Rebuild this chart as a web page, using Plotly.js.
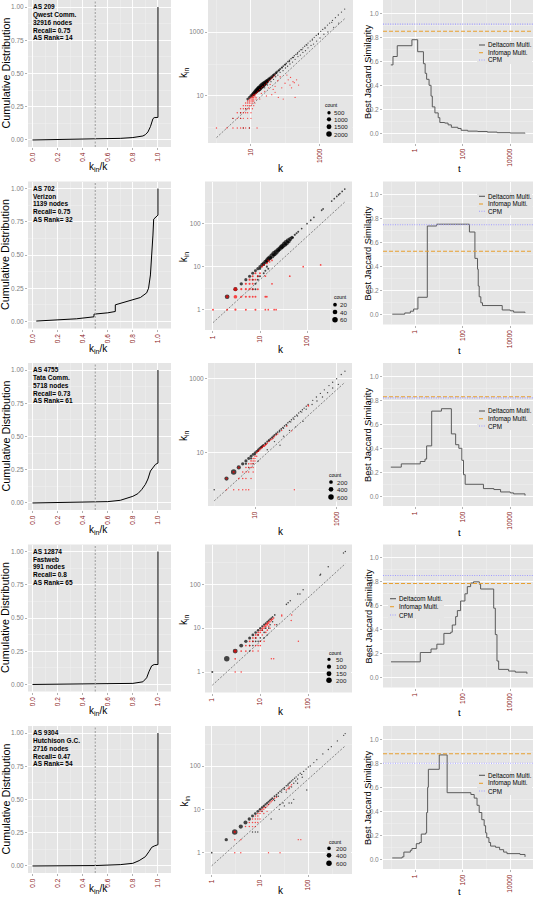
<!DOCTYPE html>
<html><head><meta charset="utf-8">
<script src="https://cdn.plot.ly/plotly-3.0.1.min.js"></script>
<style>html,body{margin:0;padding:0;background:#fff}#chart{width:534px;height:897px}</style>
</head><body><div id="chart"></div>
<script>
// ---------------- DATA ----------------
const rowText = [
  ['AS 209','Qwest Comm.','32916 nodes','Recall= 0.75','AS Rank= 14'],
  ['AS 702','Verizon','1139 nodes','Recall= 0.75','AS Rank= 32'],
  ['AS 4755','Tata Comm.','5718 nodes','Recall= 0.73','AS Rank= 61'],
  ['AS 12874','Fastweb','991 nodes','Recall= 0.8','AS Rank= 65'],
  ['AS 9304','Hutchison G.C.','2716 nodes','Recall= 0.47','AS Rank= 54']
];
const kinThreshold = 0.5;

// Column 1: cumulative distribution of k_in/k
const cdfX1 = [0,0.3,0.5,0.7,0.8,0.85,0.88,0.9,0.92,0.94,0.95,0.96,0.97,0.99,1.0,1.0];
const cdfY1 = [0,0.003,0.006,0.012,0.018,0.022,0.03,0.04,0.06,0.1,0.14,0.16,0.168,0.17,0.17,1.0];
const cdfX2 = [0.03,0.2,0.35,0.49,0.49,0.6,0.66,0.66,0.72,0.8,0.86,0.91,0.925,0.94,0.95,0.96,0.966,0.985,1.0,1.0];
const cdfY2 = [0.003,0.01,0.02,0.035,0.055,0.065,0.075,0.125,0.14,0.16,0.18,0.215,0.25,0.35,0.48,0.65,0.77,0.79,0.80,1.0];
const cdfX3 = [0,0.4,0.6,0.7,0.75,0.8,0.84,0.87,0.9,0.92,0.94,0.96,0.98,1.0,1.0];
const cdfY3 = [0,0.003,0.01,0.02,0.035,0.05,0.07,0.1,0.14,0.18,0.24,0.27,0.29,0.3,1.0];
const cdfX4 = [0,0.5,0.8,0.88,0.91,0.93,0.95,0.97,1.0,1.0];
const cdfY4 = [0,0.002,0.008,0.02,0.05,0.1,0.14,0.15,0.15,1.0];
const cdfX5 = [0,0.5,0.7,0.8,0.85,0.9,0.93,0.95,0.97,1.0,1.0];
const cdfY5 = [0,0.003,0.01,0.02,0.04,0.07,0.11,0.14,0.15,0.16,1.0];

// Column 2: [k, k_in, count]
const blackPts1 = [[8,8,200],[9,9,300],[10,10,450],[11,11,600],[12,12,800],[13,13,1000],[14,14,1200],[15,15,1400],[16,16,1600],[17,17,1800],[18,18,1900],[20,20,2000],[22,22,1900],[24,24,1600],[26,26,1300],[28,28,1000],[30,30,800],[33,33,600],[36,36,450],[40,40,350],[44,44,250],[48,48,200],[53,53,160],[58,58,120],[64,64,90],[70,70,70],[78,78,55],[86,86,45],[95,95,35],[105,105,28],[118,118,22],[130,130,18],[145,145,14],[160,160,11],[180,180,9],[200,200,7],[225,225,6],[250,250,5],[280,280,4],[320,320,3],[360,360,3],[400,400,2],[450,450,2],[520,520,2],[600,600,1],[680,680,1],[780,780,1],[900,900,1],[1050,1050,1],[1200,1200,1],[1400,1400,1],[1650,1650,1],[1900,1900,1],[2300,2300,1],[2800,2800,1],[3400,3400,1],[4200,4200,1],[5200,5200,1],
 [12,11,150],[14,13,200],[16,15,250],[18,17,300],[20,19,300],[23,22,250],[26,25,200],[30,29,150],[35,34,100],[40,38,60],[46,44,40],[55,52,25],[65,62,15],[80,76,10],[100,95,6],[130,120,4],[170,160,3],[220,205,2],[300,280,2],[420,390,1],[600,560,1],[900,840,1],[1400,1300,1],[2200,2000,1],
 [25,18,3],[30,22,2],[38,28,2],[45,33,2],[52,40,1],[60,45,1],[70,55,1],[85,62,1],[100,75,1],[115,85,1],[135,100,1],[160,115,1],[190,140,1],[230,170,1],[270,190,1],[320,230,1],[380,260,1],[450,320,1],[550,380,1],[650,420,1],[800,520,1],[1000,650,1],[1300,850,1],[1700,1000,1],[2500,1400,1],[3500,1900,1],
 [3,2,3],[5,2,2],[6,1,2],[9,1,2],[5,3,3],[7,4,2]];
const redPts1 = [[1,1,5],[2,1,8],[3,1,6],[4,1,5],[5,1,4],[6,1,3],[7,1,2],[9,1,2],[15,1,1],
 [3,2,6],[4,2,5],[5,2,4],[6,2,3],[8,2,2],[10,2,1],
 [4,3,8],[5,3,6],[6,3,4],[7,3,3],[8,3,2],[10,3,1],
 [5,4,8],[6,4,6],[7,4,5],[8,4,4],[9,4,3],[11,4,2],
 [6,5,8],[7,5,8],[8,5,6],[9,5,5],[10,5,3],[12,5,2],
 [7,6,10],[8,6,8],[9,6,6],[10,6,5],[11,6,3],[13,6,2],
 [8,7,10],[9,7,8],[10,7,6],[11,7,5],[12,7,3],
 [9,8,10],[10,8,8],[11,8,6],[12,8,4],[14,8,2],
 [10,9,10],[11,9,8],[12,9,6],[14,9,3],
 [11,10,8],[12,10,6],[13,10,4],[12,11,6],[13,11,5],[14,12,5],[15,13,4],[16,14,4],[18,16,3],[20,18,3],[22,20,3],[25,22,2],[28,25,2],[32,29,2],[36,32,1],[40,36,1],[45,40,1],[50,45,1],
 [97,25,1],[120,32,1],[135,22,1],[165,28,1],[210,32,1],[240,22,1],[150,18,1],[78,18,1],[50,13,1],[62,9,1],[40,11,1],[190,9,1],[86,8,1],[32,18,1],[50,20,1],[36,23,1],[60,30,1],[70,40,1],[110,45,1],[25,14,1],[20,12,1],[18,8,1],[28,10,1],[44,16,1],[140,38,1],[180,26,1]];

const blackPts2 = [[2,2,40],[3,3,30],[4,4,15],[5,5,12],[6,6,12],[7,7,10],[8,8,10],[9,9,12],[10,10,15],[11,11,18],[12,12,20],[13,13,25],[14,14,28],[15,15,35],[16,16,40],[18,18,50],[20,20,60],[22,22,50],[24,24,40],[26,26,35],[28,28,40],[30,30,45],[33,33,55],[36,36,60],[40,40,50],[44,44,30],[48,48,15],[55,55,3],[60,60,2],[65,65,2],[77,77,1],[100,100,1],[120,120,1],[140,140,1],[205,205,1],[220,220,1],[335,335,1],[380,380,1],[430,430,1],[470,470,1],[500,500,1],[560,560,1],[635,635,1],
 [10,9,5],[12,11,5],[14,13,6],[17,16,8],[20,19,10],[25,24,8],[30,28,5],[35,33,4],[40,38,3],[50,47,2],
 [7,3,2],[8,3,2],[8,4,2],[9,5,2],[9,6,2],[7,5,2],[12,7,2],[10,6,2],[14,10,3],[15,9,2],[13,8,2]];
const redPts2 = [[1,1,2],[2,1,2],[3,1,3],[5,1,2],[8,1,2],[13,1,1],[15,1,1],[20,1,1],[22,1,1],
 [3,2,20],[4,2,3],[5,2,3],[6,2,3],[7,2,2],[8,2,2],[13,2,2],[14,2,1],
 [4,3,3],[5,3,3],[6,3,3],[7,3,2],[9,3,2],
 [5,4,3],[6,4,3],[7,4,2],[18,4,1],
 [6,5,3],[7,5,2],[8,5,2],
 [7,6,2],[9,6,2],[13,6,1],[43,6,1],
 [8,7,2],[10,7,2],
 [83,10,1],[195,11,1],
 [2,2,8],[3,3,20],
 [11,10,2],[12,11,2],[14,12,2],[15,14,1],[16,13,1],[18,14,1]];

const blackPts3 = [[1,1,5],[2,2,300],[3,3,600],[4,4,300],[5,5,150],[6,6,120],[7,7,100],[8,8,90],[9,9,80],[10,10,70],[11,11,60],[12,12,55],[13,13,50],[14,14,45],[15,15,40],[16,16,38],[18,18,32],[20,20,28],[22,22,24],[24,24,20],[26,26,18],[28,28,16],[30,30,14],[33,33,12],[36,36,10],[40,40,9],[44,44,8],[48,48,7],[53,53,6],[58,58,5],[64,64,4],[70,70,4],[78,78,3],[86,86,3],[95,95,2],[105,105,2],[118,118,2],[130,130,2],[145,145,1],[160,160,1],[180,180,1],[200,200,1],[260,260,1],[320,320,1],[400,400,1],[500,500,1],[650,650,1],[800,800,1],[1000,1000,1],[1300,1300,1],[1600,1600,1],
 [6,5,30],[8,7,25],[10,9,20],[12,11,15],[15,14,12],[18,17,10],[22,21,8],[27,25,6],[33,31,5],[40,37,4],[50,46,3],[60,55,2],[75,68,2],[90,80,1],[110,98,1],[140,125,1],[180,150,1],[250,200,1],[330,250,1],[450,320,1],[600,420,1],[800,560,1],[1100,700,1],
 [41,16,2],[30,20,1],[50,28,1],[70,40,1],[100,50,1],[150,70,1],[9,5,3],[7,4,3],[12,6,2],[20,12,2]];
const redPts3 = [[2,1,3],[3,1,3],[4,1,3],[5,1,2],[6,1,2],[7,1,2],[92,1,1],
 [2,2,20],[3,3,30],[4,4,20],
 [4,2,5],[5,2,4],[6,2,3],[8,2,2],
 [5,3,5],[6,3,4],[7,3,3],[9,3,2],
 [6,4,5],[7,4,4],[8,4,3],[9,4,2],
 [7,5,5],[8,5,4],[9,5,3],
 [8,6,5],[9,6,4],[10,6,3],
 [9,7,4],[10,7,3],[10,8,4],[11,8,3],
 [11,10,10],[12,11,10],[13,12,10],[14,13,8],[15,14,8],[16,15,8],[17,15,6],[18,16,6],[19,17,5],[20,18,5],[22,20,4],[24,22,4],[26,23,3],[28,25,3],[30,27,2],[33,30,2],[36,32,2],[45,40,2],[60,52,1],[79,39,1],[200,190,1],[205,182,2]];

const blackPts4 = [[1,1,8],[2,2,200],[3,3,150],[4,4,80],[5,5,50],[6,6,35],[7,7,25],[8,8,20],[9,9,18],[10,10,15],[11,11,12],[12,12,10],[13,13,8],[14,14,8],[15,15,6],[16,16,5],[17,17,4],[18,18,3],[20,20,3],[35,35,2],[38,38,2],[42,42,1],[60,60,1],[67,60,1],[78,75,1],[175,160,1],[180,170,1],[260,250,1],[540,520,1],[590,560,1],
 [14,7,2],[22,12,1],[8,5,3],[9,5,2],[10,6,2],[7,4,2],[6,3,2],[12,6,2],[11,9,3],[13,10,3],[16,12,2],[12,8,2],[10,5,1],[15,10,2],[18,14,2],[9,7,3],[8,6,3],[7,5,3],[6,4,2]];
const redPts4 = [[3,1,2],[4,1,2],[3,2,3],[4,3,3],[5,4,4],[17,2,1],[19,2,1],[62,5,1],[28,20,1],[28,19,1],[45,20,1],[44,15,1],[3,3,40],
 [5,3,3],[6,4,3],[6,5,3],[7,5,3],[7,6,3],[8,6,3],[8,7,3],[9,7,3],[9,8,3],[10,8,3],[10,9,3],[11,9,3],[11,10,3],[12,10,3],[12,11,3],[13,11,3],[13,12,3],[14,12,3],[14,13,3],[15,13,2],[15,14,2],[16,14,2],[17,15,2],[17,16,2],[18,16,2],[19,17,2],[8,4,2],[9,4,2],[10,4,2],[7,3,2],[10,5,2],[12,5,1],[9,3,1],[11,7,2],[13,8,2],[14,9,2],[15,11,2],[16,10,1],[20,12,1]];

const blackPts5 = [[1,1,8],[2,2,150],[3,3,600],[4,4,300],[5,5,250],[6,6,150],[7,7,100],[8,8,80],[9,9,70],[10,10,60],[11,11,50],[12,12,45],[13,13,40],[14,14,35],[15,15,30],[16,16,25],[17,17,20],[18,18,18],[20,20,15],[22,22,10],[24,24,8],[26,26,6],[28,28,5],[30,30,5],[32,32,4],[35,35,5],[38,38,6],[40,40,5],[42,42,4],[45,45,3],[48,48,2],[52,52,2],[56,56,1],[62,62,1],[68,68,1],[73,64,1],[80,75,1],[90,85,1],[100,95,1],[110,100,1],[130,120,1],[150,140,1],[200,190,1],[260,240,1],[300,280,1],[400,380,1],[540,510,1],[580,560,1],
 [17,6,2],[26,13,2],[25,10,2],[9,3,2],[93,28,1],[30,14,1],[35,25,2],[40,30,2],[45,33,2],[50,40,1],[55,45,1],[60,50,1],[8,3,1],[7,3,1],[11,9,4],[13,11,4],[15,13,3],[19,17,3],[22,20,3],[28,25,2],[32,29,2],[38,35,2],[20,16,2],[24,20,1],[60,40,1],[75,55,1],[45,14,1],[40,14,1],[32,12,1],[50,17,1]];
const redPts5 = [[3,1,2],[4,1,2],[15,1,1],[26,1,1],[3,2,3],[4,2,2],[62,2,1],[70,2,1],[3,3,40],
 [5,4,3],[6,4,3],[6,5,3],[7,5,3],[7,6,3],[8,6,3],[8,7,3],[9,7,3],[9,8,3],[10,8,3],[10,9,3],[11,9,3],[11,10,3],[12,10,3],[12,11,3],[13,11,2],[14,12,2],[15,13,2],[16,14,2],[17,15,2],[18,16,2],[20,18,2],[22,19,2],[7,4,2],[8,4,2],[8,5,2],[9,5,2],[9,6,2],[10,6,1],[40,32,1],[42,34,1],[45,37,1],[38,30,1],[35,28,1],[12,8,1],[14,9,1]];

const countBreaks1 = [500,1000,1500,2000];
const countBreaks2 = [20,40,60];
const countBreaks3 = [200,400,600];
const countBreaks4 = [50,100,150,200];
const countBreaks5 = [200,400,600];

// Column 3: best Jaccard similarity vs t
const tVals1 = [0.093,0.115,0.174,0.72,1.26,2.2,2.6,3.0,3.8,4.6,5.2,6.7,9.2,10.8,17.4,24,33,62,85,160,420,1080,2800,10000,42000];
const simVals1 = [0.57,0.64,0.73,0.78,0.68,0.58,0.50,0.45,0.40,0.31,0.22,0.17,0.13,0.09,0.085,0.07,0.05,0.04,0.025,0.018,0.015,0.01,0.005,0.002,0.0];
const tVals2 = [0.107,0.36,0.62,0.85,1.29,3.2,7.9,190,324,417,447,490,575,676,4570,10000,13800,41700];
const simVals2 = [0.005,0.015,0.03,0.048,0.146,0.74,0.755,0.69,0.47,0.38,0.24,0.15,0.10,0.077,0.04,0.033,0.022,0.017];
const tVals3 = [0.093,0.257,1.62,2.57,3.0,4.9,12.6,33,50,68,91,107,126,740,2040,3900,10000,13800,41700];
const simVals3 = [0.243,0.27,0.29,0.31,0.42,0.71,0.73,0.52,0.43,0.40,0.30,0.18,0.10,0.064,0.056,0.036,0.028,0.02,0.006];
const tVals4 = [0.095,1.62,4.6,8.1,16,31,36,50,59,81,123,155,214,282,500,562,2000,2340,2750,3240,8500,16200,50000];
const simVals4 = [0.133,0.21,0.24,0.28,0.37,0.38,0.44,0.51,0.56,0.64,0.70,0.76,0.79,0.80,0.78,0.74,0.58,0.36,0.14,0.07,0.056,0.047,0.033];
const tVals5 = [0.107,0.28,0.33,0.62,0.72,1.1,1.5,1.78,2.75,3.0,3.3,3.55,10.2,21.9,219,302,398,490,631,794,912,1020,1260,1480,2400,3550,5250,7240,25700,41700];
const simVals5 = [0.011,0.02,0.06,0.075,0.09,0.13,0.14,0.21,0.22,0.39,0.60,0.75,0.87,0.555,0.54,0.51,0.45,0.39,0.33,0.28,0.22,0.18,0.14,0.11,0.10,0.08,0.06,0.047,0.04,0.02];
const infomapSim = [0.85,0.53,0.83,0.786,0.88];
const cpmSim = [0.91,0.75,0.82,0.853,0.80];
const methodNames = ['Deltacom Multi.','Infomap Multi.','CPM'];

// ---------------- LAYOUT / STYLE ----------------
const F = 'Liberation Sans, Arial, sans-serif';
const W = 534, H = 897, ROW = 181.5;
const cdfX = [cdfX1,cdfX2,cdfX3,cdfX4,cdfX5], cdfY = [cdfY1,cdfY2,cdfY3,cdfY4,cdfY5];
const blackPts = [blackPts1,blackPts2,blackPts3,blackPts4,blackPts5];
const redPts = [redPts1,redPts2,redPts3,redPts4,redPts5];
const countBreaks = [countBreaks1,countBreaks2,countBreaks3,countBreaks4,countBreaks5];
const tVals = [tVals1,tVals2,tVals3,tVals4,tVals5], simVals = [simVals1,simVals2,simVals3,simVals4,simVals5];
const titleY = [167,167,167,166,163];

const c2cfg = [
  {x0:208,x1:353,b:143,xr:[-0.246,3.957],yr:[-0.469,4.0],dec:2},
  {x0:205,x1:352,b:148.5,xr:[-0.17,2.957],yr:[-0.472,2.98],dec:1},
  {x0:208,x1:352,b:143,xr:[-0.152,3.377],yr:[-0.44,3.424],dec:2},
  {x0:205,x1:352,b:148,xr:[-0.152,2.91],yr:[-0.467,2.908],dec:1},
  {x0:205,x1:352,b:148,xr:[-0.139,2.905],yr:[-0.491,2.923],dec:1}
];
const countLeg = [
  {mx:329,tx:333.3,ys:[112.7,119.3,126.7,134],tl:324.3,ty:105},
  {mx:335,tx:339,ys:[123.2,130.5,138.2],tl:333.3,ty:115.5},
  {mx:331,tx:336,ys:[119,126.3,134],tl:327.7,ty:112.3},
  {mx:329,tx:335,ys:[114.8,122.2,129.2,135.8],tl:327.7,ty:108.8},
  {mx:329,tx:335,ys:[122.3,129.3,137.3],tl:327.7,ty:116}
];
const jacLeg = [
  {sx:479,tx:487,ys:[45,52.7,60]},
  {sx:479,tx:487,ys:[14.8,22.5,29.8]},
  {sx:479,tx:487,ys:[48,55.7,63]},
  {sx:390,tx:398,ys:[54.2,62.2,70.5]},
  {sx:479,tx:487,ys:[49.3,57.3,65]}
];
const colDelta = '#5A5A5A', colInfo = '#E8A030', colCPM = '#A09CFF';

const traces = [], shapes = [], annotations = [];
const layout = {width:W, height:H, margin:{l:0,r:0,t:0,b:0,pad:0}, paper_bgcolor:'#FFFFFF', plot_bgcolor:'#E5E5E5',
  showlegend:false, font:{family:F,size:7,color:'#000'}, shapes:shapes, annotations:annotations};

function yDom(t,b){return [Math.max(0,1-b/H), Math.min(1,1-t/H)];}
function xDom(a,b){return [a/W, b/W];}
function minorGrid(vals){return {tickmode:'array', tickvals:vals, showgrid:true, gridcolor:'#F2F2F2', gridwidth:0.5, ticks:''};}
function baseAx(extra){return Object.assign({zeroline:false, showline:false, showgrid:true, gridcolor:'#FFFFFF', gridwidth:0.9,
  ticks:'outside', ticklen:2, tickwidth:0.6, tickcolor:'#7F7F7F', fixedrange:true, tickmode:'array'}, extra);}
const tickGray = {family:F, size:6.5, color:'#7F7F7F'};
const tickRed = {family:F, size:6.5, color:'#8B1A1A'};
function txt(x, y, text, o){annotations.push(Object.assign({xref:'paper', yref:'paper', x:x/W, y:1-y/H, text:text, showarrow:false,
  xanchor:'left', yanchor:'middle', borderpad:0, font:{family:F,size:6.5,color:'#000'}}, o||{}));}
function dia(c, cmax){return 1.2 + 4.3*Math.sqrt(c/cmax);}
function sfx(n){return n===1?'':String(n);}

for (let r = 0; r < 5; r++) {
  const off = r*ROW;
  // ---------- column 1 ----------
  const s1 = sfx(3*r+1);
  layout['xaxis'+s1] = baseAx({domain:xDom(28,171), range:[-0.036,1.104], anchor:'y'+s1,
    tickvals:[0,0.2,0.4,0.6,0.8,1], ticktext:['0.0','0.2','0.4','0.6','0.8','1.0'], tickangle:-90, tickfont:tickRed,
    minor:minorGrid([0.1,0.3,0.5,0.7,0.9])});
  layout['yaxis'+s1] = baseAx({domain:yDom(off, off+147), range:[-0.053,1.053], anchor:'x'+s1,
    tickvals:[0,0.25,0.5,0.75,1], ticktext:['0.00','0.25','0.50','0.75','1.00'], tickfont:tickGray,
    minor:minorGrid([0.125,0.375,0.625,0.875])});
  shapes.push({type:'line', xref:'x'+s1, yref:'y'+s1+' domain', x0:kinThreshold, x1:kinThreshold, y0:0, y1:1,
    line:{color:'#9A9A9A', width:1, dash:'2px,1.5px'}, layer:'above'});
  traces.push({type:'scatter', mode:'lines', x:cdfX[r], y:cdfY[r], xaxis:'x'+s1, yaxis:'y'+s1,
    line:{color:'#000', width:1}, hoverinfo:'skip'});
  txt(5, off+73.5, 'Cumulative Distribution', {xanchor:'center', textangle:-90, font:{family:F,size:10.8,color:'#000'}});
  txt(98, off+titleY[r], 'k<sub>in</sub>/k', {xanchor:'center', font:{family:F,size:10,color:'#000'}});
  rowText[r].forEach((line,i) => txt(32, off+6.8+7.75*i, '<b>'+line+'</b>', {font:{family:F,size:6.5,color:'#000'}}));

  // ---------- column 2 ----------
  const s2 = sfx(3*r+2), cf = c2cfg[r];
  const maj = cf.dec===2 ? [10,1000] : [1,10,100];
  const majT = maj.map(String);
  const mnr = cf.dec===2 ? [1,100,10000] : [0.3162,3.162,31.62,316.2];
  layout['xaxis'+s2] = baseAx({type:'log', domain:xDom(cf.x0,cf.x1), range:cf.xr, anchor:'y'+s2,
    tickvals:maj, ticktext:majT, tickangle:-90, tickfont:tickRed, minor:minorGrid(mnr)});
  layout['yaxis'+s2] = baseAx({type:'log', domain:yDom(off, off+cf.b), range:cf.yr, anchor:'x'+s2,
    tickvals:maj, ticktext:majT, tickfont:tickGray, minor:minorGrid(mnr)});
  const allPts = blackPts[r].concat(redPts[r]);
  const cmax = Math.max.apply(null, allPts.map(p=>p[2]));
  const kmin = Math.min.apply(null, allPts.map(p=>p[0])), kmax = Math.max.apply(null, allPts.map(p=>p[0]));
  traces.push({type:'scatter', mode:'lines', x:[kmin,kmax], y:[kmin*kinThreshold,kmax*kinThreshold], xaxis:'x'+s2, yaxis:'y'+s2,
    line:{color:'#6A6A6A', width:0.8, dash:'2px,1.6px'}, hoverinfo:'skip'});
  traces.push({type:'scatter', mode:'markers', x:blackPts[r].map(p=>p[0]), y:blackPts[r].map(p=>p[1]), xaxis:'x'+s2, yaxis:'y'+s2,
    marker:{color:'#000', size:blackPts[r].map(p=>dia(p[2],cmax)), line:{width:0}}, hoverinfo:'skip'});
  traces.push({type:'scatter', mode:'markers', x:redPts[r].map(p=>p[0]), y:redPts[r].map(p=>p[1]), xaxis:'x'+s2, yaxis:'y'+s2,
    marker:{color:'#FF0000', size:redPts[r].map(p=>dia(p[2],cmax)), line:{width:0}}, hoverinfo:'skip'});
  txt(184, off+cf.b/2+1.5, 'k<sub>in</sub>', {xanchor:'center', textangle:-90, font:{family:F,size:10,color:'#000'}});
  txt(281, off+titleY[r]+1, 'k', {xanchor:'center', font:{family:F,size:10,color:'#000'}});
  // count legend
  const cl = countLeg[r];
  shapes.push({type:'rect', xref:'paper', yref:'paper', x0:(cl.tl-2)/W, x1:(cf.x1-1)/W,
    y0:1-(off+cl.ys[cl.ys.length-1]+4.5)/H, y1:1-(off+cl.ty-3.5)/H, fillcolor:'#E5E5E5', line:{width:0}, layer:'above'});
  txt(cl.tl, off+cl.ty, 'count', {font:{family:F,size:5,color:'#000'}});
  countBreaks[r].forEach((c,i) => {
    const d = dia(c,cmax);
    shapes.push({type:'circle', xref:'paper', yref:'paper', xsizemode:'pixel', ysizemode:'pixel',
      xanchor:cl.mx/W, yanchor:1-(off+cl.ys[i])/H, x0:-d/2, x1:d/2, y0:-d/2, y1:d/2,
      fillcolor:'#000', line:{width:0}, layer:'above'});
    txt(cl.tx, off+cl.ys[i], String(c), {font:{family:F,size:6.2,color:'#1A1A1A'}});
  });

  // ---------- column 3 ----------
  const s3 = sfx(3*r+3);
  layout['xaxis'+s3] = baseAx({type:'log', domain:xDom(383,533), range:[-1.36,4.956], anchor:'y'+s3,
    tickvals:[1,100,10000], ticktext:['1','100','10000'], tickangle:-90, tickfont:tickRed, minor:minorGrid([0.1,10,1000,100000])});
  layout['yaxis'+s3] = baseAx({domain:yDom(off, off+143), range:[-0.081,1.111], anchor:'x'+s3,
    tickvals:[0,0.2,0.4,0.6,0.8,1], ticktext:['0.0','0.2','0.4','0.6','0.8','1.0'], tickfont:tickGray,
    minor:minorGrid([0.1,0.3,0.5,0.7,0.9])});
  traces.push({type:'scatter', mode:'lines', x:tVals[r], y:simVals[r], xaxis:'x'+s3, yaxis:'y'+s3,
    line:{color:colDelta, width:1, shape:'hv'}, hoverinfo:'skip'});
  shapes.push({type:'line', xref:'x'+s3+' domain', yref:'y'+s3, x0:0, x1:1, y0:infomapSim[r], y1:infomapSim[r],
    line:{color:colInfo, width:1.1, dash:'4px,2px'}, layer:'above'});
  shapes.push({type:'line', xref:'x'+s3+' domain', yref:'y'+s3, x0:0, x1:1, y0:cpmSim[r], y1:cpmSim[r],
    line:{color:colCPM, width:1.1, dash:'1px,1.4px'}, layer:'above'});
  txt(368, off+72, 'Best Jaccard Similarity', {xanchor:'center', textangle:-90, font:{family:F,size:9.3,color:'#000'}});
  txt(459, off+titleY[r]+2, 't', {xanchor:'center', font:{family:F,size:9.5,color:'#000'}});
  const jl = jacLeg[r];
  shapes.push({type:'rect', xref:'paper', yref:'paper', x0:(jl.sx-2)/W, x1:Math.min(jl.tx+46,532)/W,
    y0:1-(off+jl.ys[2]+4)/H, y1:1-(off+jl.ys[0]-4)/H, fillcolor:'#E5E5E5', line:{width:0}, layer:'above'});
  const legCols = [colDelta, colInfo, colCPM], legDash = ['solid','4px,2px','1px,1.4px'];
  methodNames.forEach((nm,i) => {
    shapes.push({type:'line', xref:'paper', yref:'paper', x0:jl.sx/W, x1:(jl.sx+6)/W, y0:1-(off+jl.ys[i])/H, y1:1-(off+jl.ys[i])/H,
      line:{color:legCols[i], width:1.1, dash:legDash[i]}, layer:'above'});
    txt(jl.tx, off+jl.ys[i], nm, {font:{family:F,size:6.3,color:'#000'}});
  });
}

Plotly.newPlot('chart', traces, layout, {staticPlot:true, displayModeBar:false});
</script></body></html>
